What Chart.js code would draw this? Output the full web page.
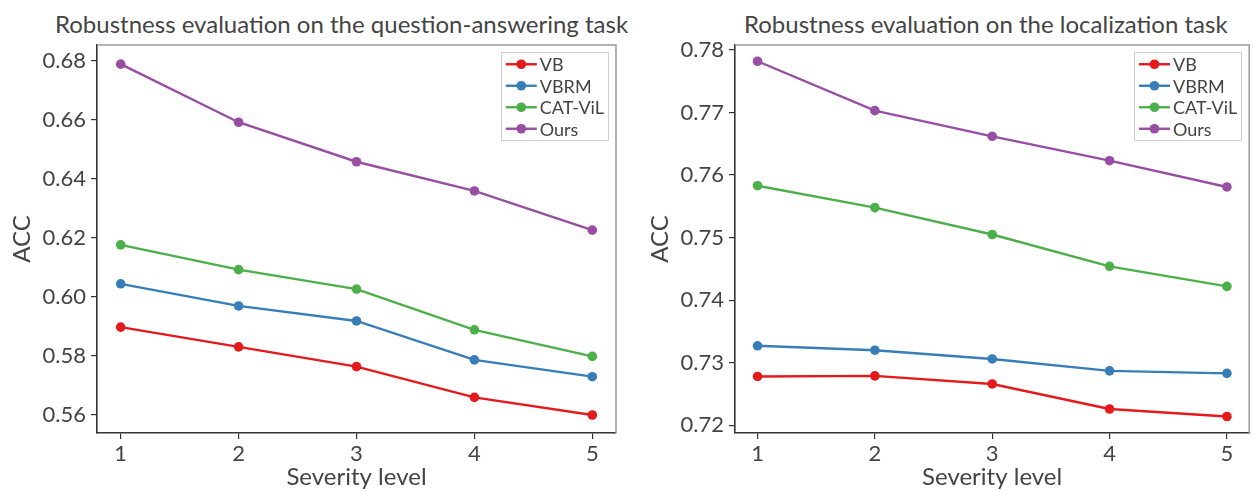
<!DOCTYPE html>
<html>
<head>
<meta charset="utf-8">
<script src="https://cdn.jsdelivr.net/npm/chart.js@4.4.1/dist/chart.umd.min.js"></script>
<style>
  html, body { margin: 0; padding: 0; background: #fff; }
  body { width: 1254px; height: 492px; position: relative; overflow: hidden; font-family: 'Lato', sans-serif; }
  .panel { position: absolute; top: 0; height: 492px; }
  #panelQA { left: 0; width: 640px; }
  #panelLoc { left: 640px; width: 614px; }
  .ttl { position: absolute; top: 10px; font-size: 24px; line-height: 28px; color: #444; white-space: nowrap; }
  #ttlQA { left: 55px; }
  #ttlLoc { left: 744px; }
</style>
</head>
<body>
<div class="ttl" id="ttlQA">Robustness evaluation on the question-answering task</div>
<div class="ttl" id="ttlLoc">Robustness evaluation on the localization task</div>
<div class="panel" id="panelQA"><canvas id="chartQA" width="640" height="492"></canvas></div>
<div class="panel" id="panelLoc"><canvas id="chartLoc" width="614" height="492"></canvas></div>
<script>
// x축 severity level
const severity = [1, 2, 3, 4, 5];
const methods = ['VB', 'VBRM', 'CAT-ViL', 'Ours'];
const colors = ['#E41A1C', '#377EB8', '#4DAF4A', '#984EA3'];

// question-answering task
const qaVB = [0.5896, 0.5829, 0.5762, 0.5658, 0.5598];
const qaVBRM = [0.6043, 0.5968, 0.5917, 0.5785, 0.5728];
const qaCATViL = [0.6175, 0.6091, 0.6025, 0.5887, 0.5797];
const qaOurs = [0.6788, 0.6591, 0.6457, 0.6358, 0.6225];
const qaTicks = [0.56, 0.58, 0.60, 0.62, 0.64, 0.66, 0.68];

// localization task
const locVB = [0.7278, 0.7279, 0.7266, 0.7226, 0.7214];
const locVBRM = [0.7327, 0.7320, 0.7306, 0.7287, 0.7283];
const locCATViL = [0.7583, 0.7548, 0.7505, 0.7454, 0.7422];
const locOurs = [0.7782, 0.7703, 0.7662, 0.7623, 0.7581];
const locTicks = [0.72, 0.73, 0.74, 0.75, 0.76, 0.77, 0.78];

const textColor = '#444';
const axisColor = '#333';

// 상단/우측 테두리 (회색)
const frameLines = {
  id: 'frameLines',
  beforeDatasetsDraw(chart) {
    const { ctx, chartArea: a } = chart;
    ctx.save();
    ctx.strokeStyle = '#9a9a9a';
    ctx.lineWidth = 1.5;
    ctx.beginPath();
    ctx.moveTo(a.left, a.top);
    ctx.lineTo(a.right, a.top);
    ctx.lineTo(a.right, a.bottom);
    ctx.stroke();
    ctx.restore();
  },
};

// 차트 영역 안쪽 우상단 범례
const insideLegend = {
  id: 'insideLegend',
  afterDatasetsDraw(chart) {
    const { ctx, chartArea } = chart;
    const ds = chart.data.datasets;
    const rowH = 21.5, padL = 5, padR = 4, lineLen = 31, gap = 3;
    ctx.save();
    ctx.font = '18px Lato, sans-serif';
    const textW = Math.max(...ds.map((d) => ctx.measureText(d.label).width));
    const w = padL + lineLen + gap + textW + padR;
    const h = ds.length * rowH + 2;
    const x = chartArea.right - 8 - w;
    const y = chartArea.top + 7;
    ctx.fillStyle = '#fff';
    ctx.strokeStyle = '#cfcfcf';
    ctx.lineWidth = 1;
    ctx.beginPath();
    ctx.rect(Math.round(x) + 0.5, Math.round(y) + 0.5, Math.round(w), h);
    ctx.fill();
    ctx.stroke();
    ds.forEach((d, i) => {
      const cy = y + 1.5 + rowH * (i + 0.5);
      const lx = x + padL;
      ctx.strokeStyle = d.borderColor;
      ctx.lineWidth = 2.4;
      ctx.beginPath();
      ctx.moveTo(lx, cy);
      ctx.lineTo(lx + lineLen, cy);
      ctx.stroke();
      ctx.fillStyle = d.borderColor;
      ctx.beginPath();
      ctx.arc(lx + lineLen / 2, cy, 4.8, 0, Math.PI * 2);
      ctx.fill();
      ctx.fillStyle = textColor;
      ctx.textAlign = 'left';
      ctx.textBaseline = 'middle';
      ctx.fillText(d.label, lx + lineLen + gap, cy + 1);
    });
    ctx.restore();
  },
};

function makeDatasets(seriesList) {
  return seriesList.map((vals, i) => ({
    label: methods[i],
    data: vals.map((v, j) => ({ x: severity[j], y: v })),
    borderColor: colors[i],
    backgroundColor: colors[i],
    borderWidth: 2.4,
    pointRadius: 4.8,
    pointBorderWidth: 0,
    tension: 0,
  }));
}

function createChart(canvasId, seriesList, cfg) {
  return new Chart(document.getElementById(canvasId), {
    type: 'line',
    data: { datasets: makeDatasets(seriesList) },
    options: {
      responsive: false,
      animation: false,
      devicePixelRatio: 1,
      layout: { padding: { top: 45, right: cfg.padRight, left: 0, bottom: 0 } },
      scales: {
        x: {
          type: 'linear',
          min: cfg.xMin,
          max: cfg.xMax,
          afterBuildTicks: (s) => { s.ticks = severity.map((v) => ({ value: v })); },
          afterFit: (s) => { s.height = 59; },
          grid: { drawOnChartArea: false, drawTicks: true, tickLength: 6, color: axisColor, lineWidth: 1.2 },
          border: { display: true, color: axisColor, width: 1.6 },
          ticks: { color: textColor, font: { family: 'Lato', size: 22 }, padding: 2, callback: (v) => v },
          title: { display: true, text: 'Severity level', color: textColor, font: { family: 'Lato', size: 24 }, padding: { top: 0, bottom: 0 } },
        },
        y: {
          min: cfg.yMin,
          max: cfg.yMax,
          afterBuildTicks: (s) => { s.ticks = cfg.yTicks.map((v) => ({ value: v })); },
          afterFit: (s) => { s.width = cfg.yWidth; },
          grid: { drawOnChartArea: false, drawTicks: true, tickLength: 6, color: axisColor, lineWidth: 1.2 },
          border: { display: true, color: axisColor, width: 1.6 },
          ticks: { color: textColor, font: { family: 'Lato', size: 22 }, padding: 5, callback: (v) => v.toFixed(2) },
          title: { display: true, text: 'ACC', color: textColor, font: { family: 'Lato', size: 24 }, padding: { top: cfg.accPad, bottom: 0 } },
        },
      },
      plugins: {
        legend: { display: false },
        tooltip: { enabled: false },
      },
    },
    plugins: [frameLines, insideLegend],
  });
}

createChart('chartQA', [qaVB, qaVBRM, qaCATViL, qaOurs], {
  xMin: 0.799, xMax: 5.201, yMin: 0.5537, yMax: 0.6853, yTicks: qaTicks,
  padRight: 24, yWidth: 97, accPad: 8,
});

createChart('chartLoc', [locVB, locVBRM, locCATViL, locOurs], {
  xMin: 0.808, xMax: 5.19, yMin: 0.71876, yMax: 0.7808, yTicks: locTicks,
  padRight: 4, yWidth: 95, accPad: 6,
});
</script>
</body>
</html>
